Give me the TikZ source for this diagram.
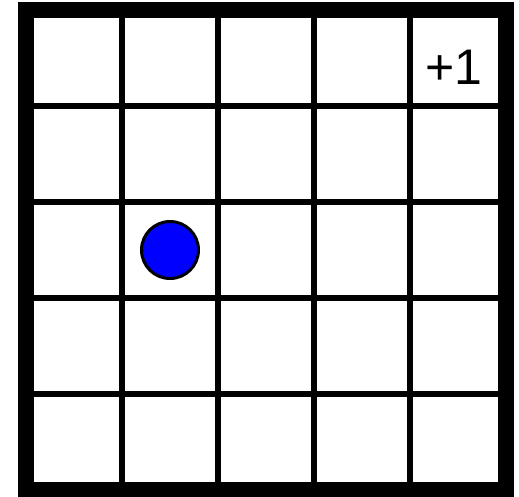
\documentclass[tikz,border=0pt]{standalone}
\usepackage{fontspec}
\setmainfont{Liberation Sans}
\begin{document}
\begin{tikzpicture}[x=1pt,y=-1pt,
  gridline/.style={line width=6pt,black},
  frame/.style={line width=16pt,black},
  agent/.style={circle,draw=black,fill=blue,line width=3pt,minimum size=57pt,inner sep=0pt},
  reward/.style={font=\fontsize{50}{54}\selectfont,inner sep=0pt}]
\useasboundingbox (0,0) rectangle (519,496);
\foreach \i in {122,218,314,410}{
  \draw[gridline] (\i,10) -- (\i,490);
  \draw[gridline] (26,\i-16) -- (506,\i-16);
}
\draw[frame] (26,10) rectangle (506,490);
\node[agent] (agent) at (170,250) {};
\node[reward] (goal) at (454,67) {+1};
\end{tikzpicture}
\end{document}
